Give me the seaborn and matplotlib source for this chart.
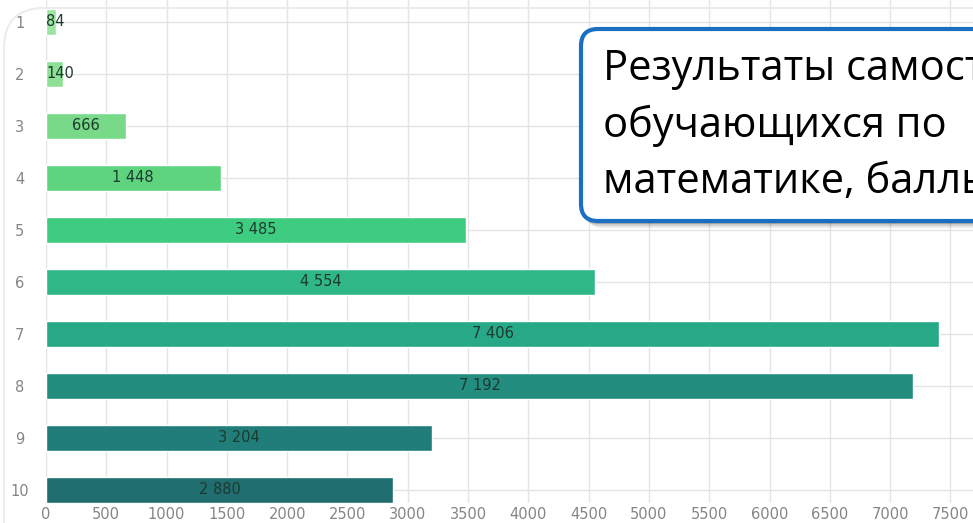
import numpy as np
import pandas as pd
import matplotlib
matplotlib.use("Agg")
import matplotlib.pyplot as plt
import seaborn as sns
from matplotlib.patches import FancyBboxPatch
from matplotlib.transforms import IdentityTransform

# data
grades = ["1", "2", "3", "4", "5", "6", "7", "8", "9", "10"]
counts = [84, 140, 666, 1448, 3485, 4554, 7406, 7192, 3204, 2880]
count_labels = ["84", "140", "666", "1 448", "3 485", "4 554", "7 406", "7 192", "3 204", "2 880"]
bar_colors = ["#9ce4a2", "#8fe097", "#78da89", "#5fd47f", "#3dcc80", "#2fb886",
              "#27a887", "#238d80", "#217d7a", "#206e70"]
x_ticks = list(range(0, 8000, 500))
title_lines = ["Результаты самостоятельной работы", "обучающихся по", "математике, баллы"]

sns.set_theme(style="whitegrid")
plt.rcParams["font.family"] = ["Liberation Sans Narrow", "DejaVu Sans"]

df = pd.DataFrame({"grade": grades, "count": counts})

W, H = 973, 523
fig = plt.figure(figsize=(W / 100, H / 100), dpi=100)
fig.patch.set_facecolor("white")

# faint card outline behind the chart
card = FancyBboxPatch((4, -40), 1100, 555, boxstyle="round,pad=0,rounding_size=40",
                      transform=IdentityTransform(), facecolor="none",
                      edgecolor="#ececec", lw=1.5, zorder=0)
fig.patches.append(card)

ax = fig.add_axes([46 / W, 20 / H, 1 - 46 / W, 503 / H])
ax.set_facecolor("none")
sns.barplot(data=df, y="grade", x="count", hue="grade", palette=bar_colors,
            legend=False, width=0.5, orient="h", saturation=1, ax=ax, zorder=2)

ax.set_xlim(0, 7687)
ax.set_ylim(9.25, -0.423)
ax.set_xticks(x_ticks)
ax.set_xlabel("")
ax.set_ylabel("")
ax.grid(True, color="#e4e4e4", lw=1)
ax.set_axisbelow(True)
for s in ax.spines.values():
    s.set_visible(False)
ax.tick_params(axis="both", length=0, colors="#858585", labelsize=10.5)
ax.tick_params(axis="x", pad=3)
ax.tick_params(axis="y", pad=19)
for t in ax.get_yticklabels():
    t.set_ha("center")

for i, (v, lab) in enumerate(zip(counts, count_labels)):
    if v < 300:
        ax.text(0, i, lab, ha="left", va="center", fontsize=10.5, color="#1d3a2e", zorder=3)
    else:
        ax.text(v / 2, i, lab, ha="center", va="center", fontsize=10.5, color="#1d3a2e", zorder=3)

# callout box with shadow
bx, by, bw, bh = 581, H - 221, 600, 192
for k, a in [(7, 0.08), (5, 0.12), (3, 0.18)]:
    sh = FancyBboxPatch((bx + k - 2, by - k), bw, bh, boxstyle="round,pad=0,rounding_size=17",
                        transform=IdentityTransform(), facecolor="#000000", edgecolor="none",
                        alpha=a, zorder=5)
    fig.patches.append(sh)
box = FancyBboxPatch((bx, by), bw, bh, boxstyle="round,pad=0,rounding_size=17",
                     transform=IdentityTransform(), facecolor="white",
                     edgecolor="#1a6fc2", lw=3, zorder=6)
fig.patches.append(box)

for line, base in zip(title_lines, [80, 137, 193]):
    fig.text(603 / W, 1 - base / H, line, ha="left", va="baseline", fontsize=30,
             color="black", family=["Open Sans", "DejaVu Sans"], zorder=7)

fig.savefig("out.png", dpi=100)
